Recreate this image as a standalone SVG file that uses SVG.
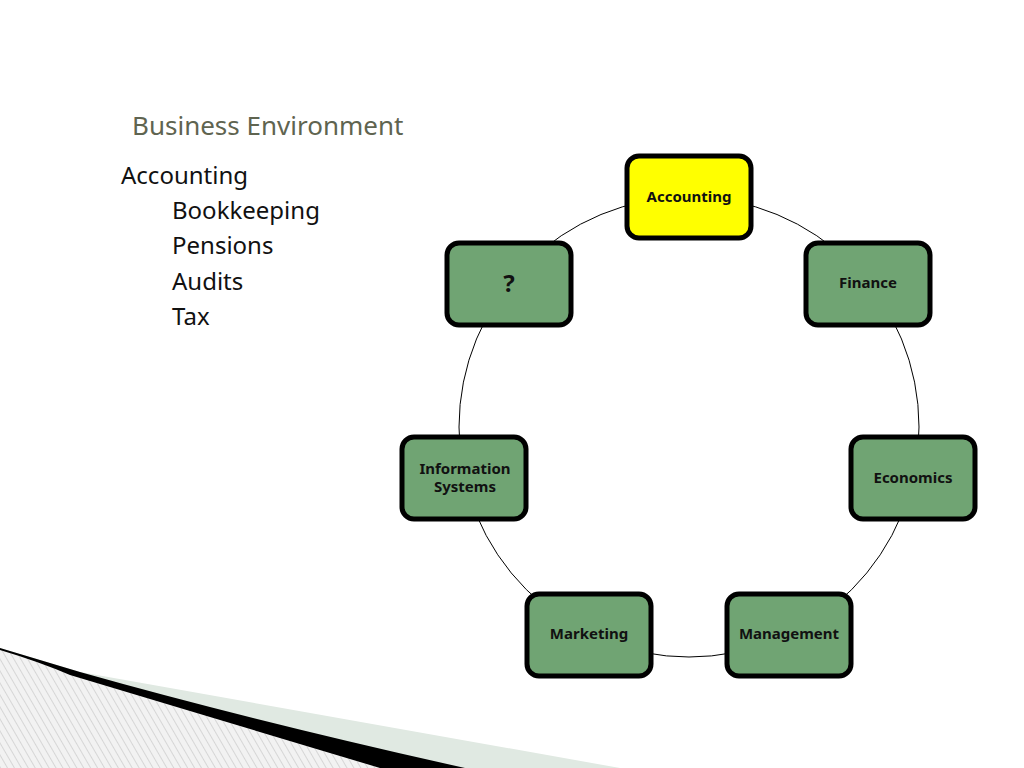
<svg xmlns="http://www.w3.org/2000/svg" width="1024" height="768" viewBox="0 0 1024 768">
<style>
.n rect{fill:#70a473;stroke:#000;stroke-width:5}
.n text{font-family:"Noto Sans","Open Sans",sans-serif;font-weight:bold;font-size:15px;text-anchor:middle;fill:#111}
.t{font-family:"Noto Sans","Open Sans",sans-serif;font-size:24px;fill:#111}
</style>
<defs>
<pattern id="h" width="6" height="6" patternUnits="userSpaceOnUse" patternTransform="rotate(-30)">
<rect width="6" height="6" fill="#f2f2f2"/><line x1="0" y1="0" x2="0" y2="6" stroke="#bbb" stroke-width="1"/>
</pattern>
</defs>
<rect width="1024" height="768" fill="#fff"/>
<path d="M0 648 Q40 660 80 672 L620 768 L0 768Z" fill="#e0e9e2"/>
<path d="M0 648 Q40 660 80 672 Q250 720 465 768 L0 768Z" fill="#000"/>
<path d="M0 650 Q40 662 70 675 Q220 720 380 768 L0 768Z" fill="url(#h)"/>
<text x="132" y="135" font-family="Noto Sans, Open Sans, sans-serif" font-size="26" fill="#5f6450">Business Environment</text>
<text class="t" x="121" y="184">Accounting</text>
<text class="t" x="172" y="219">Bookkeeping</text>
<text class="t" x="172" y="254">Pensions</text>
<text class="t" x="172" y="290">Audits</text>
<text class="t" x="172" y="325">Tax</text>
<g id="connectors"><circle cx="689" cy="427" r="230" fill="none" stroke="#000" stroke-width="1"/></g>
<g id="accounting" class="n"><rect x="627" y="156" width="124" height="82" rx="12" fill="#ffff00" style="fill:#ffff00"/><text x="689" y="202">Accounting</text></g>
<g id="finance" class="n"><rect x="806" y="243" width="124" height="82" rx="12"/><text x="868" y="288">Finance</text></g>
<g id="economics" class="n"><rect x="851" y="437" width="124" height="82" rx="12"/><text x="913" y="483">Economics</text></g>
<g id="management" class="n"><rect x="727" y="594" width="124" height="82" rx="12"/><text x="789" y="639">Management</text></g>
<g id="marketing" class="n"><rect x="527" y="594" width="124" height="82" rx="12"/><text x="589" y="639">Marketing</text></g>
<g id="infosys" class="n"><rect x="402" y="437" width="124" height="82" rx="12"/><text x="465" y="474">Information</text><text x="465" y="492">Systems</text></g>
<g id="unknown" class="n"><rect x="447" y="243" width="124" height="82" rx="12"/><text x="509" y="292" style="font-size:24px">?</text></g>
</svg>
